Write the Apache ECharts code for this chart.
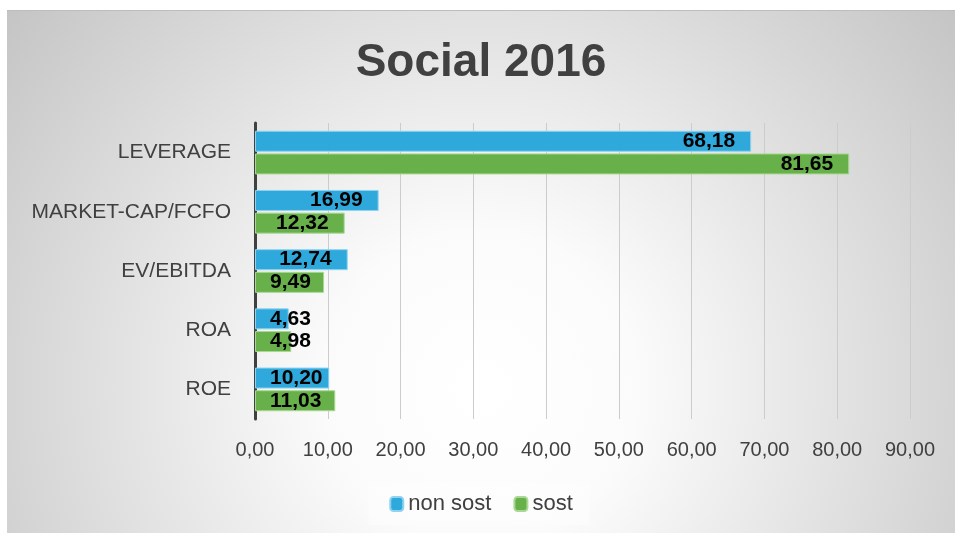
<!DOCTYPE html>
<html>
<head>
<meta charset="utf-8">
<script src="https://cdn.jsdelivr.net/npm/echarts@6/dist/echarts.min.js"></script>
<style>
  html, body { margin: 0; padding: 0; background: #ffffff; }
  #chart { position: absolute; left: 7px; top: 10px; width: 948px; height: 523px; border-top: 1px solid #bdbdbd; box-sizing: border-box; }
</style>
</head>
<body>
<div id="chart"></div>
<script>
// Indicators, listed top to bottom
const categories = ['LEVERAGE', 'MARKET-CAP/FCFO', 'EV/EBITDA', 'ROA', 'ROE'];
const nonSost = [68.18, 16.99, 12.74, 4.63, 10.20];
const sost = [81.65, 12.32, 9.49, 4.98, 11.03];
const seriesNames = ['non sost', 'sost'];
const axisMin = 0, axisMax = 90, axisStep = 10;

const fmt = v => v.toFixed(2).replace('.', ',');
const FONT = '"Liberation Sans", Arial, sans-serif';
const labelSize = 21;
const labelFont = 'bold ' + labelSize + 'px ' + FONT;

const chart = echarts.init(document.getElementById('chart'));

const labelBase = {
  show: true,
  color: '#000000',
  fontFamily: FONT,
  fontWeight: 'bold',
  fontSize: labelSize,
  formatter: p => fmt(p.value)
};

function buildOption(dataA, dataB) {
  return {
    backgroundColor: {
      type: 'radial', x: 0.5, y: 0.72, r: 1.2,
      colorStops: [
        { offset: 0, color: '#ffffff' },
        { offset: 0.25, color: '#fbfbfb' },
        { offset: 1, color: '#c2c2c2' }
      ]
    },
    animation: false,
    title: {
      text: 'Social 2016',
      left: 'center',
      top: 24,
      textStyle: { fontFamily: FONT, fontWeight: 'bold', fontSize: 46, color: '#404040' }
    },
    legend: {
      bottom: 8,
      left: 'center',
      padding: [10, 17, 10, 21],
      backgroundColor: 'rgba(255,255,255,0.35)',
      itemWidth: 13,
      itemHeight: 14,
      itemGap: 22,
      textStyle: { fontFamily: FONT, fontSize: 22, color: '#404040' },
      data: seriesNames
    },
    grid: { left: 248, right: 45, top: 112, bottom: 114, containLabel: false },
    xAxis: {
      type: 'value',
      min: axisMin,
      max: axisMax,
      interval: axisStep,
      axisLine: { show: false },
      axisTick: { show: false },
      splitLine: { show: true, lineStyle: { color: '#cccccc', width: 1 } },
      axisLabel: { margin: 21, fontFamily: FONT, fontSize: 20, color: '#404040', formatter: v => fmt(v) }
    },
    yAxis: {
      type: 'category',
      inverse: true,
      data: categories,
      axisLine: { show: true, lineStyle: { color: '#404040', width: 3 } },
      axisTick: { show: false },
      axisLabel: { margin: 24, fontFamily: FONT, fontSize: 21, color: '#404040' }
    },
    series: [
      {
        name: seriesNames[0],
        type: 'bar',
        barWidth: 21,
        barGap: '8%',
        itemStyle: { color: '#2fa9dc', borderColor: '#8fd3f0', borderWidth: 1 },
        label: labelBase,
        data: dataA
      },
      {
        name: seriesNames[1],
        type: 'bar',
        barWidth: 21,
        barGap: '8%',
        itemStyle: { color: '#67b04a', borderColor: '#a8d893', borderWidth: 1 },
        label: labelBase,
        data: dataB
      }
    ]
  };
}

chart.setOption(buildOption(nonSost, sost));

// Place each value label at the inner end of its bar, or near the bar start
// when the bar is too short to hold the text with padding on both sides.
const ctx = document.createElement('canvas').getContext('2d');
ctx.font = labelFont;
const x0 = chart.convertToPixel({ xAxisIndex: 0 }, 0);
function placed(values) {
  return values.map(v => {
    const barLen = chart.convertToPixel({ xAxisIndex: 0 }, v) - x0;
    const textW = ctx.measureText(fmt(v)).width;
    const fitsEnd = barLen - 16 - textW >= 15;
    return {
      value: v,
      label: fitsEnd
        ? { position: 'insideRight', distance: 16 }
        : { position: 'insideLeft', distance: 15 }
    };
  });
}
chart.setOption(buildOption(placed(nonSost), placed(sost)));
</script>
</body>
</html>
